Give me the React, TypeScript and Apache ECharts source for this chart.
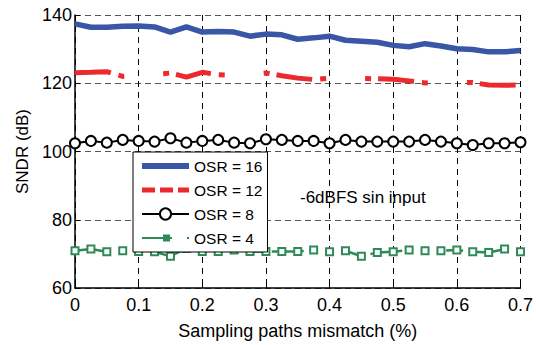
import React, { useEffect, useRef } from "react";
import * as echarts from "echarts";

const xValues = [0, 0.025, 0.05, 0.075, 0.1, 0.125, 0.15, 0.175, 0.2, 0.225, 0.25, 0.275, 0.3, 0.325, 0.35, 0.375, 0.4, 0.425, 0.45, 0.475, 0.5, 0.525, 0.55, 0.575, 0.6, 0.625, 0.65, 0.675, 0.7];
const osr16 = [137.4, 136.4, 136.4, 136.7, 136.8, 136.5, 135.0, 136.5, 135.0, 135.2, 135.0, 133.8, 134.4, 134.2, 132.9, 133.3, 133.8, 132.6, 132.3, 132.0, 131.1, 130.7, 131.6, 130.9, 130.1, 129.9, 129.2, 129.2, 129.6];
const osr12 = [123.1, 123.2, 123.4, 122.0, 122.3, 122.6, 123.0, 121.8, 123.2, 122.5, 122.3, 122.6, 123.0, 122.2, 121.5, 121.1, 121.5, 121.3, 121.4, 121.3, 121.2, 120.7, 120.1, 120.3, 120.3, 120.2, 119.5, 119.4, 119.5];
const osr8 = [102.4, 103.1, 102.6, 103.4, 103.1, 102.9, 103.9, 102.6, 103.1, 103.4, 102.6, 102.4, 103.6, 103.4, 103.1, 103.1, 102.4, 103.4, 102.9, 102.9, 102.9, 102.9, 103.4, 102.9, 102.4, 101.9, 102.4, 102.4, 102.7];
const osr4 = [70.9, 71.4, 70.6, 70.9, 70.7, 70.6, 69.3, 71.6, 70.7, 70.7, 71.1, 70.7, 70.7, 70.7, 70.7, 71.1, 70.6, 70.9, 69.3, 70.4, 70.6, 71.1, 70.9, 70.9, 71.1, 70.6, 70.4, 71.4, 70.6];
const seriesNames = ["OSR = 16", "OSR = 12", "OSR = 8", "OSR = 4"];
const xTitle = "Sampling paths mismatch (%)";
const yTitle = "SNDR (dB)";
const annotation = "-6dBFS sin input";

const FONT = "Liberation Sans, Arial, sans-serif";
const BLUE = "#3a56a6";
const RED = "#ec2a2e";
const GREEN = "#2e8b57";

function pairs(ys: number[]) {
  return xValues.map((x, i) => [x, ys[i]]);
}

const blueIcon = "path://M0,0 H47 V6 H0 Z";
const redIcon = "path://M0,0 H13 V5 H0 Z M18,0 H31 V5 H18 Z M36,0 H47 V5 H36 Z";
const greenIcon = "path://M0,6 H30 V8 H0 Z M21,3.5 H28 V10.5 H21 Z M45,6 H47 V8 H45 Z";

export default function App() {
  const ref = useRef<HTMLDivElement>(null);
  useEffect(() => {
    if (!ref.current) return;
    const chart = echarts.init(ref.current, undefined, { renderer: "svg" });
    chart.setOption({
      animation: false,
      backgroundColor: "#fff",
      textStyle: { fontFamily: FONT },
      grid: { left: 75, right: 14, top: 15, bottom: 54 },
      xAxis: {
        type: "value",
        min: 0,
        max: 0.7,
        interval: 0.1,
        name: xTitle,
        nameLocation: "middle",
        nameGap: 34,
        nameTextStyle: { fontSize: 18, color: "#000", fontFamily: FONT },
        axisLine: { show: true, onZero: false, lineStyle: { color: "#000", width: 1.5 } },
        axisTick: { show: true, inside: true, length: 5, lineStyle: { color: "#000" } },
        axisLabel: {
          fontSize: 18,
          color: "#000",
          margin: 8,
          fontFamily: FONT,
          formatter: (v: number) => (v === 0 ? "0" : v.toFixed(1)),
        },
        splitLine: { show: true, lineStyle: { color: "#000", type: [6, 5], width: 1 } },
      },
      yAxis: {
        type: "value",
        min: 60,
        max: 140,
        interval: 20,
        name: yTitle,
        nameLocation: "middle",
        nameGap: 41,
        nameRotate: 90,
        nameTextStyle: { fontSize: 17, color: "#000", fontFamily: FONT },
        axisLine: { show: true, onZero: false, lineStyle: { color: "#000", width: 1.5 } },
        axisTick: { show: true, inside: true, length: 5, lineStyle: { color: "#000" } },
        axisLabel: { fontSize: 18, color: "#000", margin: 3, fontFamily: FONT },
        splitLine: { show: true, lineStyle: { color: "#555", type: [6, 4], width: 1 } },
      },
      legend: {
        orient: "vertical",
        left: 133,
        top: 152,
        padding: [6, 5, 6, 8],
        itemWidth: 47,
        itemHeight: 14,
        itemGap: 8,
        borderColor: "#000",
        borderWidth: 1,
        backgroundColor: "#fff",
        textStyle: { fontSize: 15.5, color: "#000", fontFamily: FONT },
        data: [
          { name: seriesNames[0], icon: blueIcon },
          { name: seriesNames[1], icon: redIcon },
          { name: seriesNames[2] },
          { name: seriesNames[3], icon: greenIcon },
        ],
      },
      graphic: [
        {
          type: "text",
          left: 300,
          top: 189,
          style: { text: annotation, fontSize: 17, fill: "#000", fontFamily: FONT },
        },
      ],
      series: [
        {
          name: seriesNames[0],
          type: "line",
          data: pairs(osr16),
          symbol: "none",
          lineStyle: { color: BLUE, width: 5.5 },
          itemStyle: { color: BLUE },
          z: 4,
        },
        {
          name: seriesNames[1],
          type: "line",
          data: pairs(osr12),
          symbol: "none",
          lineStyle: { color: RED, width: 5, type: [36, 8, 6, 39, 6, 7] },
          itemStyle: { color: RED },
          z: 3,
        },
        {
          name: seriesNames[2],
          type: "line",
          data: pairs(osr8),
          symbol: "emptyCircle",
          symbolSize: 10,
          lineStyle: { color: "#000", width: 2 },
          itemStyle: { color: "#000", borderWidth: 2 },
          z: 5,
        },
        {
          name: seriesNames[3],
          type: "line",
          data: pairs(osr4),
          symbol: "emptyRect",
          symbolSize: 7,
          lineStyle: { color: GREEN, width: 2.5, type: [32, 44, 17, 7] },
          itemStyle: { color: GREEN, borderWidth: 2.5 },
          z: 2,
        },
      ],
    });
    return () => chart.dispose();
  }, []);
  return (
    <div
      ref={ref}
      style={{ position: "fixed", left: 0, top: 0, width: 536, height: 345 }}
    />
  );
}
